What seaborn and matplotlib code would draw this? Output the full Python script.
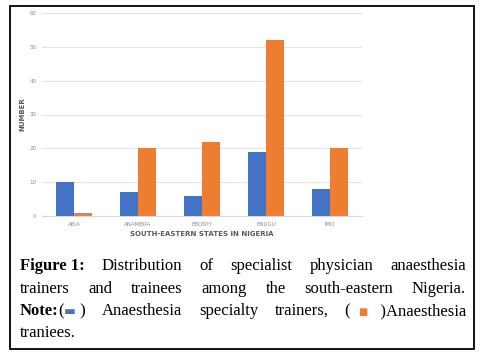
import pandas as pd
import matplotlib
matplotlib.use('Agg')
import matplotlib.pyplot as plt
import seaborn as sns
from matplotlib.patches import Rectangle

# Chart data
states = ['ABIA', 'ANAMBRA', 'EBONYI', 'ENUGU', 'IMO']
trainers = [10, 7, 6, 19, 8]
trainees = [1, 20, 22, 52, 20]
y_ticks = [0, 10, 20, 30, 40, 50, 60]

df = pd.DataFrame({
    'State': states * 2,
    'Number': trainers + trainees,
    'Group': ['Trainers'] * len(states) + ['Trainees'] * len(states),
})

W, H = 481, 362
sns.set_style('white')
fig = plt.figure(figsize=(W / 100, H / 100), dpi=100)
fig.patch.set_facecolor('white')

# outer box around chart + caption
fig.patches.append(Rectangle((10 / W, 1 - 349 / H), 464 / W, 343 / H,
                             transform=fig.transFigure, fill=False,
                             edgecolor='black', linewidth=1.3))

ax = fig.add_axes([42 / W, 1 - 216 / H, 320 / W, 203 / H])
sns.barplot(data=df, x='State', y='Number', hue='Group', ax=ax,
            palette=['#4472C4', '#ED7D31'], width=0.57,
            edgecolor='none', saturation=1, legend=False)
ax.set_ylim(0, 60)
ax.set_yticks(y_ticks)
ax.yaxis.grid(True, color='#e3e3e3', linewidth=0.8)
ax.set_axisbelow(True)
for s in ['top', 'right', 'left']:
    ax.spines[s].set_visible(False)
ax.spines['bottom'].set_color('#d9d9d9')
ax.spines['bottom'].set_linewidth(0.8)
ax.tick_params(axis='both', length=0, labelsize=4, labelcolor='#8c8c8c', pad=4)
ax.set_xlabel('SOUTH-EASTERN STATES IN NIGERIA', fontsize=5, fontweight='bold',
              color='#595959', labelpad=3)
ax.set_ylabel('NUMBER', fontsize=5, fontweight='bold', color='#595959', labelpad=3)

# justified caption
renderer = fig.canvas.get_renderer()
serif = 'Liberation Serif'
fs = 12
x0, x1 = 20, 466


def seg(text, weight='normal', color='black', family=serif, size=fs):
    return (text, weight, color, family, size)


def draw_line(words, y, justify=True):
    pieces = []
    widths = []
    for word in words:
        arts = []
        w = 0
        for text, weight, color, family, size in word:
            t = fig.text(0, 0, text, fontsize=size, fontweight=weight, color=color,
                         family=family, va='baseline', ha='left')
            tw = t.get_window_extent(renderer).width
            arts.append((t, w))
            w += tw
        pieces.append(arts)
        widths.append(w)
    if justify and len(words) > 1:
        gap = (x1 - x0 - sum(widths)) / (len(words) - 1)
    else:
        gap = 3.5
    x = x0
    for arts, w in zip(pieces, widths):
        for t, off in arts:
            t.set_position(((x + off) / W, 1 - y / H))
        x += w + gap


draw_line([[seg('Figure 1:', 'bold')], [seg('Distribution')], [seg('of')],
           [seg('specialist')], [seg('physician')], [seg('anaesthesia')]], 270)
draw_line([[seg('trainers')], [seg('and')], [seg('trainees')], [seg('among')],
           [seg('the')], [seg('south-eastern')], [seg('Nigeria.')]], 293)
draw_line([[seg('Note:', 'bold'), seg('('),
            seg('\u25ac', color='#4472C4', family='DejaVu Sans', size=9), seg(' )')],
           [seg('Anaesthesia')], [seg('specialty')], [seg('trainers,')],
           [seg('(  '),
            seg('\u25a0', color='#ED7D31', family='DejaVu Sans', size=7),
            seg('   )Anaesthesia')]], 315)
draw_line([[seg('traniees.')]], 337, justify=False)

fig.savefig('out.png', dpi=100)
